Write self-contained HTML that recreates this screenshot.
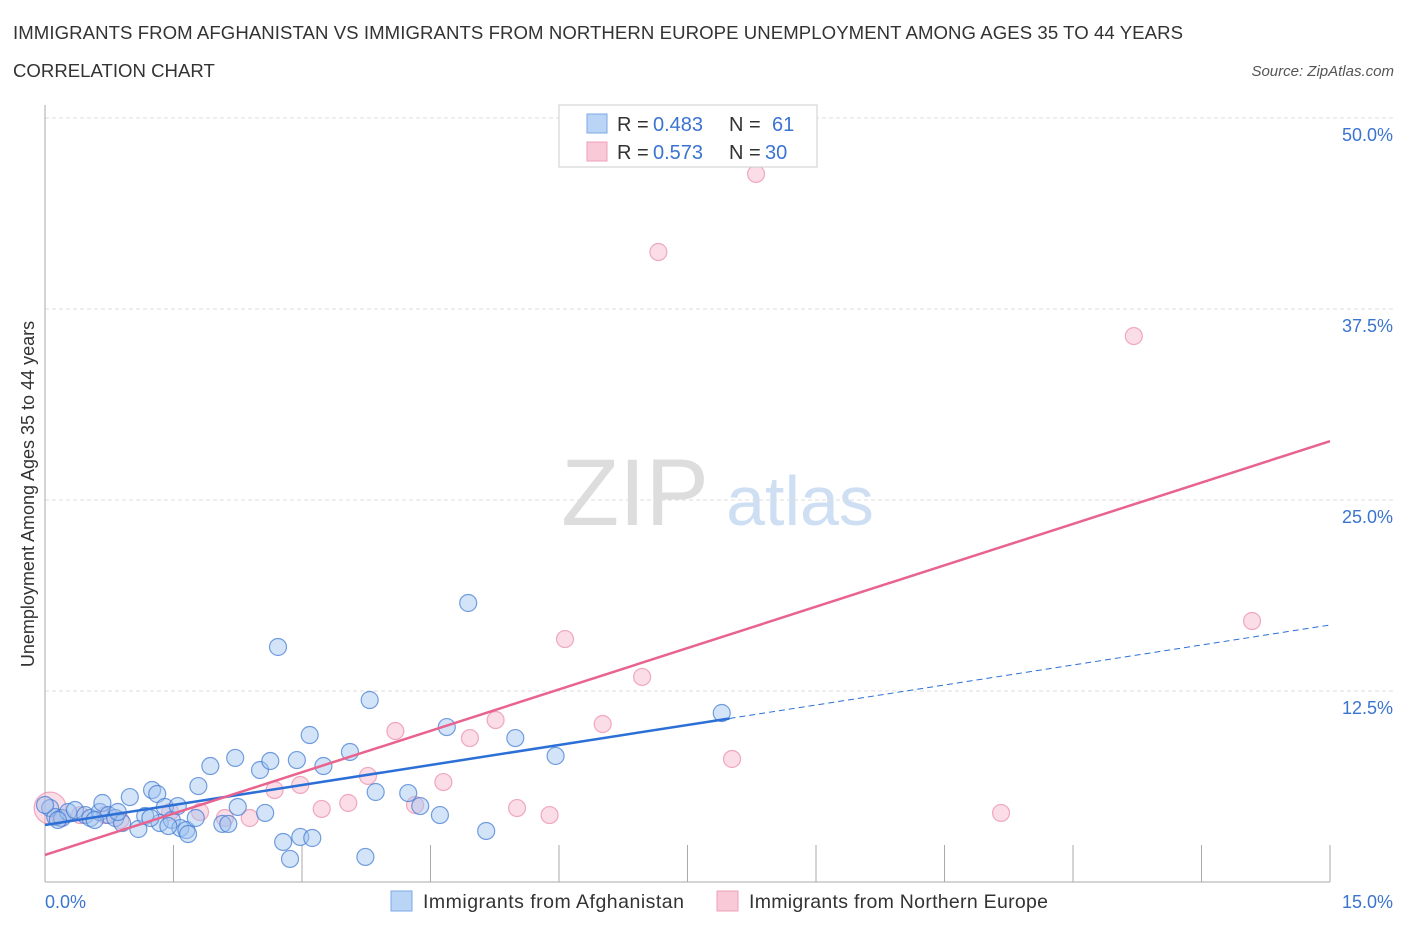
<!DOCTYPE html>
<html><head><meta charset="utf-8"><style>
body{margin:0;background:#fff;font-family:"Liberation Sans",sans-serif;}
svg text{font-family:"Liberation Sans",sans-serif;}
</style></head><body>
<svg id="chart" width="1406" height="930" xmlns="http://www.w3.org/2000/svg">
<text x="13" y="39" font-size="18.6" fill="#333" textLength="1170">IMMIGRANTS FROM AFGHANISTAN VS IMMIGRANTS FROM NORTHERN EUROPE UNEMPLOYMENT AMONG AGES 35 TO 44 YEARS</text>
<text x="13" y="77" font-size="18.6" fill="#333">CORRELATION CHART</text>
<text x="1394" y="76" font-size="15" fill="#555" font-style="italic" text-anchor="end">Source: ZipAtlas.com</text>
<g>
<text x="635" y="525" font-size="95" fill="#ddd" font-family="Liberation Serif" text-anchor="middle">ZIP</text>
<text x="800" y="525" font-size="70" fill="#cfdff3" text-anchor="middle">atlas</text>
</g>
<g id="grid"></g>
<g id="axes"></g>
<g id="marks"></g>
<text transform="translate(34,494) rotate(-90)" font-size="18" fill="#333" text-anchor="middle">Unemployment Among Ages 35 to 44 years</text>
<g>
<rect x="559" y="105" width="258" height="62" fill="#fff" stroke="#ccc"/>
<rect x="587" y="114" width="20" height="19" fill="#b9d4f5" stroke="#7aa9e6"/>
<rect x="587" y="142" width="20" height="19" fill="#f9c9d7" stroke="#eea0b8"/>
<text x="617" y="131" font-size="20" fill="#333">R =</text>
<text x="653" y="131" font-size="20" fill="#3a74d0">0.483</text>
<text x="729" y="131" font-size="20" fill="#333">N =</text>
<text x="772" y="131" font-size="20" fill="#3a74d0">61</text>
<text x="617" y="159" font-size="20" fill="#333">R =</text>
<text x="653" y="159" font-size="20" fill="#3a74d0">0.573</text>
<text x="729" y="159" font-size="20" fill="#333">N =</text>
<text x="765" y="159" font-size="20" fill="#3a74d0">30</text>
</g>
<g>
<rect x="391" y="891" width="21" height="20" fill="#b9d4f5" stroke="#7aa9e6"/>
<text x="423" y="908" font-size="19.5" fill="#333" textLength="261">Immigrants from Afghanistan</text>
<rect x="717" y="891" width="21" height="20" fill="#f9c9d7" stroke="#eea0b8"/>
<text x="749" y="908" font-size="19.5" fill="#333" textLength="299">Immigrants from Northern Europe</text>
</g>
</svg>
<script>
const yTicks=[12.5,25,37.5,50];
const yTickLabels=["12.5%","25.0%","37.5%","50.0%"];
const xTicks=[0,1.5,3,4.5,6,7.5,9,10.5,12,13.5,15];
const blueX=[0.06,0.12,0.20,0.27,0.35,0.47,0.53,0.64,0.67,0.74,0.82,0.90,0.99,1.09,1.17,1.25,1.31,1.34,1.40,1.48,1.55,1.58,1.65,1.67,1.76,1.79,1.93,2.07,2.14,2.22,2.25,2.51,2.57,2.63,2.72,2.78,2.86,2.94,2.98,3.09,3.12,3.25,3.56,3.74,3.79,3.86,4.24,4.38,4.61,4.69,4.94,5.15,5.49,5.96,7.90,0.00,0.15,0.58,0.85,1.23,1.44];
const blueY=[4.84,4.25,4.19,4.58,4.71,4.38,4.19,4.58,5.17,4.38,4.19,3.86,5.56,3.47,4.32,6.02,5.76,3.86,4.91,4.06,4.97,3.53,3.40,3.14,4.19,6.28,7.59,3.80,3.80,8.12,4.91,7.33,4.52,7.92,15.38,2.62,1.51,7.98,2.95,9.62,2.88,7.59,8.51,1.64,11.91,5.89,5.82,4.97,4.38,10.14,18.26,3.34,9.42,8.25,11.06,5.04,4.06,4.06,4.58,4.19,3.66];
const pinkX=[0.06,0.18,0.41,0.70,0.88,1.46,1.81,2.10,2.39,2.68,2.98,3.23,3.54,3.77,4.09,4.32,4.65,4.96,5.26,5.51,5.89,6.07,6.51,6.97,7.16,8.02,8.30,11.16,12.71,14.09];
const pinkY=[4.84,4.19,4.38,4.38,4.06,4.58,4.58,4.19,4.19,6.02,6.35,4.78,5.17,6.94,9.88,5.04,6.54,9.42,10.60,4.84,4.38,15.90,10.34,13.42,41.23,8.05,46.34,4.52,35.73,17.08];
const blueTrend=[3.73,16.82];
const blueSolidEnd=7.99;
const pinkTrend=[1.77,28.85];
const X0=45,X1=1330,Y0=882,Y1=118;
const sx=v=>X0+(v/15)*(X1-X0);
const sy=v=>Y0-(v/50)*(Y0-Y1);
const NS="http://www.w3.org/2000/svg";
function mk(p,t,a){const e=document.createElementNS(NS,t);for(const k in a)e.setAttribute(k,a[k]);p.appendChild(e);return e;}
const grid=document.getElementById('grid'),axes=document.getElementById('axes'),marks=document.getElementById('marks');
yTicks.forEach((v,i)=>{
 const l=mk(grid,'line',{x1:X0,x2:1395,y1:sy(v),y2:sy(v),stroke:'#ddd','stroke-dasharray':'4,3'});
 
 
 const t=mk(axes,'text',{x:1393,y:sy(v)+23,'font-size':18,fill:'#3a74d0','text-anchor':'end'});
 t.textContent=yTickLabels[i];
 
 
});
const ya=mk(axes,'line',{x1:X0,x2:X0,y1:105,y2:Y0,stroke:'#aaa'});


const xa=mk(axes,'line',{x1:X0,x2:X1,y1:Y0,y2:Y0,stroke:'#aaa'});


xTicks.forEach(v=>{
 const t=mk(axes,'line',{x1:sx(v),x2:sx(v),y1:845,y2:Y0,stroke:'#aaa'});
 
 
});
const xl0=mk(axes,'text',{x:45,y:908,'font-size':18,fill:'#3a74d0'});xl0.textContent='0.0%';


const xl1=mk(axes,'text',{x:1393,y:908,'font-size':18,fill:'#3a74d0','text-anchor':'end'});xl1.textContent='15.0%';


pinkX.forEach((x,i)=>{
 const c=mk(marks,'circle',{cx:sx(x),cy:sy(pinkY[i]),r:i===0?16:8.5,fill:'rgba(246,170,195,0.4)',stroke:'rgba(232,120,155,0.6)','stroke-width':1.2});
 
 
});
blueX.forEach((x,i)=>{
 const c=mk(marks,'circle',{cx:sx(x),cy:sy(blueY[i]),r:8.5,fill:'rgba(160,196,240,0.45)',stroke:'rgba(60,120,210,0.7)','stroke-width':1.2});
 
 
});
const by=x=>blueTrend[0]+(blueTrend[1]-blueTrend[0])*x/15;
const bl=mk(marks,'line',{x1:sx(0),y1:sy(by(0)),x2:sx(blueSolidEnd),y2:sy(by(blueSolidEnd)),stroke:'#2c6fd6','stroke-width':2.5});


const bd=mk(marks,'line',{x1:sx(blueSolidEnd),y1:sy(by(blueSolidEnd)),x2:sx(15),y2:sy(by(15)),stroke:'#2c6fd6','stroke-width':1,'stroke-dasharray':'6,4'});


const pl=mk(marks,'line',{x1:sx(0),y1:sy(pinkTrend[0]),x2:sx(15),y2:sy(pinkTrend[1]),stroke:'#e8638e','stroke-width':2.5});


</script>
</body></html>
